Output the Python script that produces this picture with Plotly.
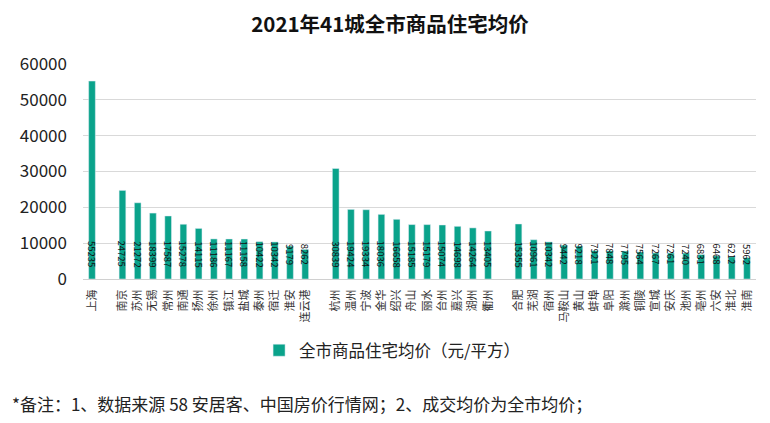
import plotly.graph_objects as go

cities = ["上海", " ",
          "南京", "苏州", "无锡", "常州", "南通", "扬州", "徐州", "镇江", "盐城", "泰州", "宿迁", "淮安", "连云港", "  ",
          "杭州", "温州", "宁波", "金华", "绍兴", "舟山", "丽水", "台州", "嘉兴", "湖州", "衢州", "   ",
          "合肥", "芜湖", "宿州", "马鞍山", "黄山", "蚌埠", "阜阳", "滁州", "铜陵", "宣城", "安庆", "池州", "亳州", "六安", "淮北", "淮南"]
prices = [55235, None,
          24725, 21272, 18399, 17587, 15278, 14115, 11186, 11167, 11158, 10422, 10342, 9179, 8262, None,
          30839, 19424, 19334, 18036, 16658, 15185, 15179, 15074, 14698, 14264, 13405, None,
          15355, 10961, 10342, 9442, 9218, 7921, 7848, 7795, 7564, 7267, 7261, 7240, 6831, 6468, 6212, 5962]
y_ticks = [0, 10000, 20000, 30000, 40000, 50000, 60000]
y_ticktext = ["0", "10000", "20000", "30000", "40000", "50000", "60000"]

FONT = "Noto Sans CJK SC"
TEAL = "#0AA38B"
W, H = 762, 415
L, R, T, B = 73, 14, 56, 144
PW, PH = W - L - R, H - T - B

fig = go.Figure()
fig.add_trace(go.Bar(
    x=cities, y=prices, name="全市商品住宅均价（元/平方）",
    marker_color=TEAL,
))

for c, v in zip(cities, prices):
    if v is None:
        continue
    fig.add_annotation(x=c, y=0, yshift=25, text=str(v), textangle=90, showarrow=False,
                       xanchor="center", yanchor="middle",
                       font=dict(size=9.5, color="#111111", family=FONT))

fig.update_layout(
    width=W, height=H,
    margin=dict(l=L, r=R, t=T, b=B),
    paper_bgcolor="white", plot_bgcolor="white",
    font=dict(family=FONT, color="#222222"),
    bargap=0.56,
    title=dict(text="<b>2021年41城全市商品住宅均价</b>", x=382 / W, xanchor="center",
               y=1 - 17 / H, yanchor="middle", font=dict(size=20.5, color="#111111", family=FONT)),
    showlegend=True,
    legend=dict(orientation="h", x=(383 - L) / PW, xanchor="center", y=-(325 - (T + PH)) / PH, yanchor="top",
                font=dict(size=16.5, color="#222222", family=FONT)),
    xaxis=dict(type="category", tickangle=-90, tickfont=dict(size=11, color="#333333", family=FONT),
               showline=True, linecolor="#d0d0d0", ticks="", showgrid=False, ticklabelstandoff=5),
    yaxis=dict(range=[0, 60000], tickvals=y_ticks, ticktext=y_ticktext,
               tickfont=dict(size=17, color="#222222", family=FONT),
               showgrid=True, gridcolor="#d9d9d9", zeroline=False, showline=False, ticks="",
               ticklabelstandoff=15),
)

fig.add_annotation(text="*备注：1、数据来源 58 安居客、中国房价行情网；2、成交均价为全市均价；",
                   xref="paper", yref="paper", x=-L / PW, y=-(395 - (T + PH)) / PH,
                   xanchor="left", yanchor="middle",
                   showarrow=False, font=dict(size=17, color="#222222", family=FONT))

fig.write_html("out.html")
